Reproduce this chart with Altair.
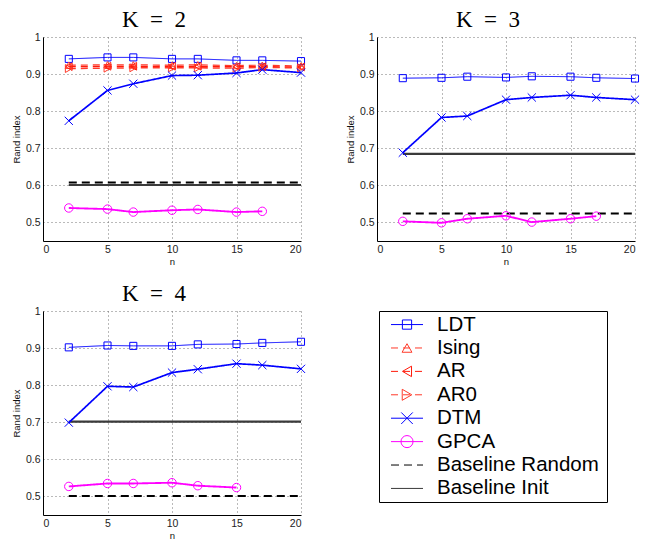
import altair as alt
import pandas as pd

# ---------------- data ----------------
n_full = [2, 5, 7, 10, 12, 15, 17, 20]
n_gpca_k2 = [2, 5, 7, 10, 12, 15, 17]
n_gpca_k3 = [2, 5, 7, 10, 12, 15, 17]
n_gpca_k4 = [2, 5, 7, 10, 12, 15]

k2_ldt = [0.941, 0.945, 0.945, 0.941, 0.941, 0.937, 0.937, 0.935]
k2_ising = [0.924, 0.925, 0.925, 0.924, 0.925, 0.923, 0.924, 0.922]
k2_ar = [0.920, 0.921, 0.921, 0.921, 0.921, 0.920, 0.920, 0.919]
k2_ar0 = [0.915, 0.916, 0.917, 0.917, 0.917, 0.916, 0.918, 0.917]
k2_dtm = [0.774, 0.856, 0.874, 0.896, 0.897, 0.903, 0.912, 0.904]
k2_gpca = [0.539, 0.536, 0.528, 0.533, 0.535, 0.528, 0.530]

k3_ldt = [0.889, 0.890, 0.893, 0.891, 0.894, 0.893, 0.890, 0.888]
k3_dtm = [0.688, 0.783, 0.787, 0.831, 0.837, 0.843, 0.837, 0.831]
k3_gpca = [0.503, 0.499, 0.510, 0.518, 0.501, 0.510, 0.517]

k4_ldt = [0.902, 0.907, 0.906, 0.906, 0.910, 0.911, 0.914, 0.917]
k4_dtm = [0.699, 0.797, 0.795, 0.834, 0.843, 0.858, 0.854, 0.844]
k4_gpca = [0.527, 0.535, 0.535, 0.537, 0.529, 0.524]

baseline_span = [2, 20]
baseline_random = {2: 0.608, 3: 0.524, 4: 0.501}
baseline_init = {2: 0.601, 3: 0.685, 4: 0.702}

series = ["LDT", "Ising", "AR", "AR0", "DTM", "GPCA", "Baseline Random", "Baseline Init"]
colors = ["#0000ff", "#ff3a2a", "#ff1a0a", "#ff3a2a", "#0000ff", "#ff00ff", "#000000", "#3a3a3a"]
dashes = [[1, 0], [7, 5], [7, 5], [7, 5], [1, 0], [1, 0], [8, 5], [1, 0]]
widths = [1, 2.2, 2.2, 2.2, 1, 1, 1.2, 1.2]
xpath = "M-1,-1L1,1M-1,1L1,-1"
shapes = ["square", "triangle-up", "triangle-left", "triangle-right", xpath, "circle", "circle", "circle"]
sizes = [50, 80, 80, 80, 30, 55, 10, 10]
legend_sizes = [85, 170, 170, 170, 50, 100, 10, 10]

# ---------------- encodings ----------------
color_enc = alt.Color("s:N", scale=alt.Scale(domain=series, range=colors), legend=None)
dash_enc = alt.StrokeDash("s:N", scale=alt.Scale(domain=series, range=dashes), legend=None)
width_enc = alt.StrokeWidth("s:N", scale=alt.Scale(domain=series, range=widths), legend=None)
shape_enc = alt.Shape("s:N", scale=alt.Scale(domain=series, range=shapes), legend=None)
size_enc = alt.Size("s:N", scale=alt.Scale(domain=series, range=sizes), legend=None)
lsize_enc = alt.Size("s:N", scale=alt.Scale(domain=series, range=legend_sizes), legend=None)

FONT = "Liberation Sans"
EN = "\u2002"
PW, PH = 258, 204


def title_params(text):
    return alt.TitleParams(text=text, font="Liberation Serif", fontSize=23,
                           fontWeight="normal", color="black", dx=-18, offset=0)


def panel(K, curves):
    rows = []
    for name, ns, vals in curves:
        for n, v in zip(ns, vals):
            rows.append({"s": name, "n": n, "v": v})
    df = pd.DataFrame(rows)
    bdf = pd.DataFrame([
        {"s": "Baseline Random", "n1": baseline_span[0], "n2": baseline_span[1], "v": baseline_random[K]},
        {"s": "Baseline Init", "n1": baseline_span[0], "n2": baseline_span[1], "v": baseline_init[K]},
    ])
    xs = alt.Scale(domain=[0, 20], nice=False)
    ys = alt.Scale(domain=[0.45, 1], nice=False, zero=False)
    xax = alt.Axis(values=[0, 5, 10, 15, 20], title="n", format="d")
    yax = alt.Axis(values=[0.5, 0.6, 0.7, 0.8, 0.9, 1.0], title="Rand index",
                   labelExpr="datum.value == 1 ? '1' : format(datum.value, '.1f')")
    x = alt.X("n:Q", scale=xs, axis=xax)
    y = alt.Y("v:Q", scale=ys, axis=yax)
    base = alt.Chart(df)
    rules = alt.Chart(bdf).mark_rule().encode(
        x=alt.X("n1:Q", scale=xs, axis=xax), x2="n2:Q",
        y=alt.Y("v:Q", scale=ys, axis=yax),
        color=color_enc, strokeDash=dash_enc, strokeWidth=width_enc)
    lines = base.mark_line().encode(x=x, y=y, color=color_enc, strokeDash=dash_enc,
                                    strokeWidth=width_enc, detail="s:N")
    pts = base.mark_point(filled=False, strokeWidth=1, opacity=1).encode(
        x=x, y=y, color=color_enc, shape=shape_enc, size=size_enc)
    return alt.layer(rules, lines, pts).properties(
        width=PW, height=PH, title=title_params(f"K{EN}={EN}{K}"))


k2 = panel(2, [("LDT", n_full, k2_ldt), ("Ising", n_full, k2_ising), ("AR", n_full, k2_ar),
               ("AR0", n_full, k2_ar0), ("DTM", n_full, k2_dtm), ("GPCA", n_gpca_k2, k2_gpca)])
k3 = panel(3, [("LDT", n_full, k3_ldt), ("DTM", n_full, k3_dtm), ("GPCA", n_gpca_k3, k3_gpca)])
k4 = panel(4, [("LDT", n_full, k4_ldt), ("DTM", n_full, k4_dtm), ("GPCA", n_gpca_k4, k4_gpca)])

# ---------------- legend panel ----------------
ldf = pd.DataFrame({"s": series})
ly = alt.Y("s:N", scale=alt.Scale(type="point", domain=series, padding=0.58), axis=None)
lbase = alt.Chart(ldf)
l_rule = lbase.mark_rule().encode(x=alt.value(12), x2=alt.value(44), y=ly,
                                  color=color_enc, strokeDash=dash_enc)
l_pts = lbase.transform_filter(
    alt.FieldOneOfPredicate(field="s", oneOf=series[:6])
).mark_point(filled=False, strokeWidth=1, opacity=1).encode(
    x=alt.value(28), y=ly, color=color_enc, shape=shape_enc, size=lsize_enc)
l_txt = lbase.mark_text(align="left", baseline="middle", fontSize=20.5, font=FONT,
                        color="black").encode(x=alt.value(58), y=ly, text="s:N")
legend = alt.layer(l_rule, l_pts, l_txt).properties(
    width=228, height=191,
    title=alt.TitleParams(text=" ", font="Liberation Serif", fontSize=23, offset=9),
    view=alt.ViewBackground(stroke="black", strokeWidth=1))

top = alt.hconcat(k2, k3, spacing=36)
bottom = alt.hconcat(k4, legend, spacing=70).resolve_scale(size="independent")
chart = alt.vconcat(top, bottom, spacing=11).resolve_scale(size="independent").properties(
    background="white", padding={"left": 2, "top": 0, "right": 0, "bottom": 0}
).configure_view(stroke="transparent").configure_axis(
    labelFont=FONT, labelFontSize=10.5, labelColor="#222", titleFont=FONT,
    titleFontSize=9.5, titleFontWeight="normal", titleColor="#111",
    domainColor="black", domainWidth=1, ticks=False, labelPadding=3,
    grid=True, gridColor="#666", gridDash=[1, 3], gridWidth=1, gridOpacity=0.9,
).configure_axisY(titlePadding=4).configure_axisX(titlePadding=2)

chart.save("out.html", embed_options={"renderer": "svg", "actions": False})
